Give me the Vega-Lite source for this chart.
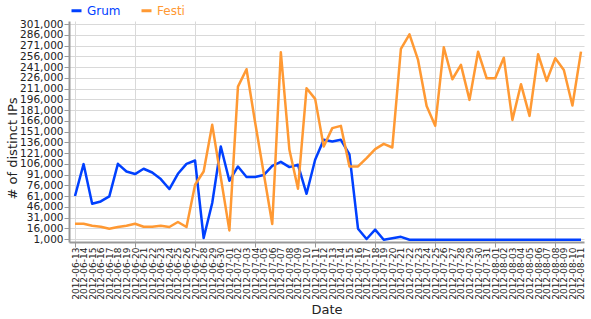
{
  "$schema": "https://vega.github.io/schema/vega-lite/v6.json",
  "width": 515,
  "height": 221,
  "autosize": "none",
  "padding": {"left": 69, "top": 21, "right": 7, "bottom": 77},
  "background": "white",
  "config": {"view": {"stroke": null}, "font": "DejaVu Sans"},
  "data": {"values": [
    {"date":"2012-06-13","series":"Grum","ips":61000},
    {"date":"2012-06-14","series":"Grum","ips":105500},
    {"date":"2012-06-15","series":"Grum","ips":50200},
    {"date":"2012-06-16","series":"Grum","ips":53400},
    {"date":"2012-06-17","series":"Grum","ips":60400},
    {"date":"2012-06-18","series":"Grum","ips":105900},
    {"date":"2012-06-19","series":"Grum","ips":95200},
    {"date":"2012-06-20","series":"Grum","ips":91600},
    {"date":"2012-06-21","series":"Grum","ips":99000},
    {"date":"2012-06-22","series":"Grum","ips":93800},
    {"date":"2012-06-23","series":"Grum","ips":84600},
    {"date":"2012-06-24","series":"Grum","ips":70700},
    {"date":"2012-06-25","series":"Grum","ips":92000},
    {"date":"2012-06-26","series":"Grum","ips":105900},
    {"date":"2012-06-27","series":"Grum","ips":110500},
    {"date":"2012-06-28","series":"Grum","ips":2400},
    {"date":"2012-06-29","series":"Grum","ips":51200},
    {"date":"2012-06-30","series":"Grum","ips":130000},
    {"date":"2012-07-01","series":"Grum","ips":82200},
    {"date":"2012-07-02","series":"Grum","ips":102200},
    {"date":"2012-07-03","series":"Grum","ips":87400},
    {"date":"2012-07-04","series":"Grum","ips":87400},
    {"date":"2012-07-05","series":"Grum","ips":90200},
    {"date":"2012-07-06","series":"Grum","ips":103100},
    {"date":"2012-07-07","series":"Grum","ips":108700},
    {"date":"2012-07-08","series":"Grum","ips":101300},
    {"date":"2012-07-09","series":"Grum","ips":104500},
    {"date":"2012-07-10","series":"Grum","ips":64100},
    {"date":"2012-07-11","series":"Grum","ips":111500},
    {"date":"2012-07-12","series":"Grum","ips":139400},
    {"date":"2012-07-13","series":"Grum","ips":137000},
    {"date":"2012-07-14","series":"Grum","ips":139400},
    {"date":"2012-07-15","series":"Grum","ips":119000},
    {"date":"2012-07-16","series":"Grum","ips":15400},
    {"date":"2012-07-17","series":"Grum","ips":1000},
    {"date":"2012-07-18","series":"Grum","ips":14000},
    {"date":"2012-07-19","series":"Grum","ips":0},
    {"date":"2012-07-20","series":"Grum","ips":2000},
    {"date":"2012-07-21","series":"Grum","ips":4000},
    {"date":"2012-07-22","series":"Grum","ips":0},
    {"date":"2012-07-23","series":"Grum","ips":0},
    {"date":"2012-07-24","series":"Grum","ips":0},
    {"date":"2012-07-25","series":"Grum","ips":0},
    {"date":"2012-07-26","series":"Grum","ips":0},
    {"date":"2012-07-27","series":"Grum","ips":0},
    {"date":"2012-07-28","series":"Grum","ips":0},
    {"date":"2012-07-29","series":"Grum","ips":0},
    {"date":"2012-07-30","series":"Grum","ips":0},
    {"date":"2012-07-31","series":"Grum","ips":0},
    {"date":"2012-08-01","series":"Grum","ips":0},
    {"date":"2012-08-02","series":"Grum","ips":0},
    {"date":"2012-08-03","series":"Grum","ips":0},
    {"date":"2012-08-04","series":"Grum","ips":0},
    {"date":"2012-08-05","series":"Grum","ips":0},
    {"date":"2012-08-06","series":"Grum","ips":0},
    {"date":"2012-08-07","series":"Grum","ips":0},
    {"date":"2012-08-08","series":"Grum","ips":0},
    {"date":"2012-08-09","series":"Grum","ips":0},
    {"date":"2012-08-10","series":"Grum","ips":0},
    {"date":"2012-08-11","series":"Grum","ips":0},
    {"date":"2012-06-13","series":"Festi","ips":22300},
    {"date":"2012-06-14","series":"Festi","ips":22300},
    {"date":"2012-06-15","series":"Festi","ips":19500},
    {"date":"2012-06-16","series":"Festi","ips":18100},
    {"date":"2012-06-17","series":"Festi","ips":15300},
    {"date":"2012-06-18","series":"Festi","ips":17700},
    {"date":"2012-06-19","series":"Festi","ips":19500},
    {"date":"2012-06-20","series":"Festi","ips":22300},
    {"date":"2012-06-21","series":"Festi","ips":18100},
    {"date":"2012-06-22","series":"Festi","ips":18100},
    {"date":"2012-06-23","series":"Festi","ips":19500},
    {"date":"2012-06-24","series":"Festi","ips":17700},
    {"date":"2012-06-25","series":"Festi","ips":24700},
    {"date":"2012-06-26","series":"Festi","ips":17700},
    {"date":"2012-06-27","series":"Festi","ips":76700},
    {"date":"2012-06-28","series":"Festi","ips":95200},
    {"date":"2012-06-29","series":"Festi","ips":160300},
    {"date":"2012-06-30","series":"Festi","ips":86800},
    {"date":"2012-07-01","series":"Festi","ips":13000},
    {"date":"2012-07-02","series":"Festi","ips":213600},
    {"date":"2012-07-03","series":"Festi","ips":237900},
    {"date":"2012-07-04","series":"Festi","ips":164000},
    {"date":"2012-07-05","series":"Festi","ips":93000},
    {"date":"2012-07-06","series":"Festi","ips":21900},
    {"date":"2012-07-07","series":"Festi","ips":261600},
    {"date":"2012-07-08","series":"Festi","ips":125400},
    {"date":"2012-07-09","series":"Festi","ips":71100},
    {"date":"2012-07-10","series":"Festi","ips":211400},
    {"date":"2012-07-11","series":"Festi","ips":196500},
    {"date":"2012-07-12","series":"Festi","ips":130000},
    {"date":"2012-07-13","series":"Festi","ips":155700},
    {"date":"2012-07-14","series":"Festi","ips":158900},
    {"date":"2012-07-15","series":"Festi","ips":102200},
    {"date":"2012-07-16","series":"Festi","ips":102200},
    {"date":"2012-07-17","series":"Festi","ips":113900},
    {"date":"2012-07-18","series":"Festi","ips":126400},
    {"date":"2012-07-19","series":"Festi","ips":133800},
    {"date":"2012-07-20","series":"Festi","ips":128700},
    {"date":"2012-07-21","series":"Festi","ips":266200},
    {"date":"2012-07-22","series":"Festi","ips":286600},
    {"date":"2012-07-23","series":"Festi","ips":250800},
    {"date":"2012-07-24","series":"Festi","ips":186700},
    {"date":"2012-07-25","series":"Festi","ips":158900},
    {"date":"2012-07-26","series":"Festi","ips":268500},
    {"date":"2012-07-27","series":"Festi","ips":223900},
    {"date":"2012-07-28","series":"Festi","ips":243900},
    {"date":"2012-07-29","series":"Festi","ips":195100},
    {"date":"2012-07-30","series":"Festi","ips":262400},
    {"date":"2012-07-31","series":"Festi","ips":225300},
    {"date":"2012-08-01","series":"Festi","ips":225300},
    {"date":"2012-08-02","series":"Festi","ips":254000},
    {"date":"2012-08-03","series":"Festi","ips":167200},
    {"date":"2012-08-04","series":"Festi","ips":217000},
    {"date":"2012-08-05","series":"Festi","ips":172800},
    {"date":"2012-08-06","series":"Festi","ips":258800},
    {"date":"2012-08-07","series":"Festi","ips":221600},
    {"date":"2012-08-08","series":"Festi","ips":253200},
    {"date":"2012-08-09","series":"Festi","ips":236900},
    {"date":"2012-08-10","series":"Festi","ips":187200},
    {"date":"2012-08-11","series":"Festi","ips":262400}
  ]},
  "encoding": {
    "y": {
      "field": "ips", "type": "quantitative",
      "scale": {"domain": [1000, 301000], "nice": false, "zero": false, "padding": 3},
      "axis": {
        "values": [1000,16000,31000,46000,61000,76000,91000,106000,121000,136000,151000,166000,181000,196000,211000,226000,241000,256000,271000,286000,301000],
        "labelExpr": "format(datum.value, ',')",
        "labelOverlap": false, "labelFlush": false, "labelBound": false,
        "grid": true, "gridColor": "#d9d9d9", "gridWidth": 1,
        "domain": true, "domainColor": "#999999", "domainWidth": 2,
        "ticks": true, "tickColor": "#999999", "tickSize": 5, "tickWidth": 1,
        "labelFont": "DejaVu Sans", "labelFontSize": 10.5, "labelColor": "#222222", "labelPadding": 1,
        "title": "# of distinct IPs", "titleFont": "DejaVu Sans", "titleFontSize": 13,
        "titleFontWeight": "normal", "titleColor": "#222222", "titleX": -57, "titleY": 127,
        "titleAngle": -90, "titleBaseline": "middle", "titleAlign": "center"
      }
    },
    "color": {
      "field": "series", "type": "nominal",
      "scale": {"domain": ["Grum", "Festi"], "range": ["#0040ff", "#ff9933"]},
      "legend": {
        "title": null, "orient": "none", "legendX": 1, "legendY": -17, "direction": "horizontal",
        "symbolType": "stroke", "symbolSize": 100, "symbolStrokeWidth": 3,
        "labelFont": "DejaVu Sans", "labelFontSize": 12, "labelOffset": 4, "columnPadding": 14,
        "encode": {"labels": {"update": {"fill": {"scale": "color", "field": "value"}}}}
      }
    }
  },
  "layer": [
    {
      "transform": [{"filter": "datum.series == 'Grum'"}],
      "mark": {"type": "line", "strokeWidth": 2.5, "strokeJoin": "round"},
      "encoding": {
        "x": {
          "field": "date", "type": "temporal",
          "scale": {"type": "utc", "domain": [
            {"year": 2012, "month": 6, "date": 12, "hours": 7, "minutes": 12, "utc": true},
            {"year": 2012, "month": 8, "date": 11, "hours": 8, "minutes": 24, "utc": true}
          ]},
          "axis": {
            "orient": "bottom",
            "values": [
              {"year": 2012, "month": 6, "date": 13, "utc": true},
              {"year": 2012, "month": 6, "date": 20, "utc": true},
              {"year": 2012, "month": 6, "date": 27, "utc": true},
              {"year": 2012, "month": 7, "date": 4, "utc": true},
              {"year": 2012, "month": 7, "date": 11, "utc": true},
              {"year": 2012, "month": 7, "date": 18, "utc": true},
              {"year": 2012, "month": 7, "date": 25, "utc": true},
              {"year": 2012, "month": 8, "date": 1, "utc": true},
              {"year": 2012, "month": 8, "date": 8, "utc": true}
            ],
            "labels": false, "title": null,
            "grid": true, "gridColor": "#d9d9d9", "gridWidth": 1,
            "domain": true, "domainColor": "#999999", "domainWidth": 2,
            "ticks": true, "tickColor": "#999999", "tickSize": 5
          }
        }
      }
    },
    {
      "transform": [{"filter": "datum.series == 'Festi'"}],
      "mark": {"type": "line", "strokeWidth": 2.5, "strokeJoin": "round"},
      "encoding": {
        "x": {
          "field": "date", "type": "temporal",
          "axis": {
            "orient": "bottom",
            "tickCount": {"interval": "day", "step": 1},
            "labelExpr": "utcFormat(datum.value, '%Y-%m-%d')",
            "labelAngle": -90, "labelAlign": "right", "labelBaseline": "middle",
            "labelOverlap": false, "labelFlush": false, "labelBound": false,
            "labelFont": "DejaVu Sans", "labelFontSize": 9, "labelColor": "#222222", "labelPadding": 5,
            "grid": false, "domain": false, "ticks": false,
            "title": "Date", "titleFont": "DejaVu Sans", "titleFontSize": 13,
            "titleFontWeight": "normal", "titleColor": "#222222", "titlePadding": 4
          }
        }
      }
    }
  ],
  "resolve": {"axis": {"x": "independent"}}
}
